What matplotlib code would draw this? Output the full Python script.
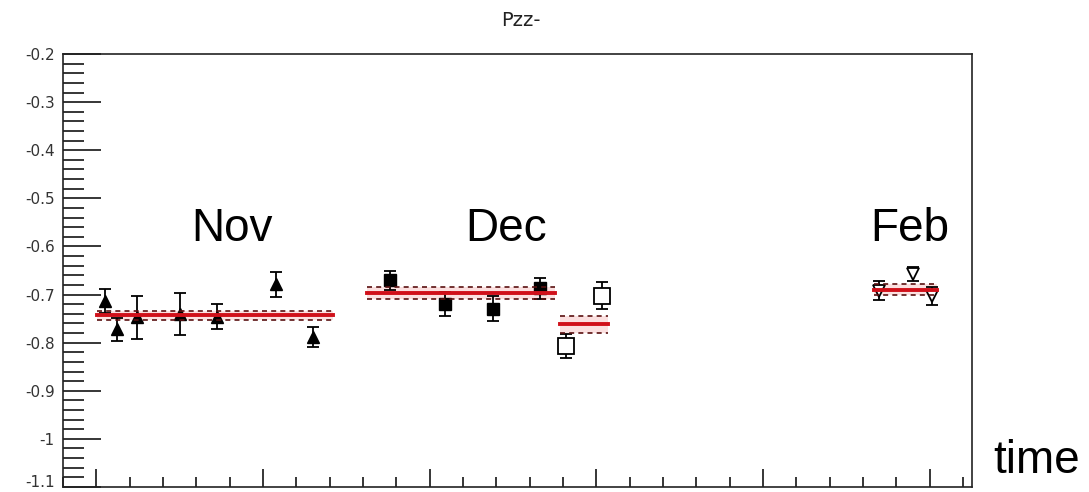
import numpy as np
import matplotlib
matplotlib.use("Agg")
import matplotlib.pyplot as plt
from matplotlib.ticker import MultipleLocator

# Nov: filled up triangles
nov_x = [1.26, 1.63, 2.21, 3.51, 4.61, 6.39, 7.49]
nov_y = [-0.714, -0.772, -0.747, -0.740, -0.746, -0.679, -0.788]
nov_err = [0.025, 0.024, 0.045, 0.044, 0.026, 0.026, 0.021]

# Dec: filled squares
dec_x = [9.81, 11.46, 12.91, 14.31]
dec_y = [-0.670, -0.720, -0.729, -0.687]
dec_err = [0.020, 0.025, 0.025, 0.022]

# Dec (second part): open squares
dec2_x = [15.08, 16.18]
dec2_y = [-0.807, -0.702]
dec2_err = [0.024, 0.028]

# Feb: open down triangles
feb_x = [24.49, 25.51, 26.06]
feb_y = [-0.692, -0.657, -0.703]
feb_err = [0.020, 0.014, 0.018]

# fits: (x start, x end, mean, error)
fit_ranges = [(1.01, 8.1), (9.11, 14.76), (14.91, 16.36), (24.33, 26.23)]
fit_mean = [-0.743, -0.697, -0.762, -0.690]
fit_err = [0.0095, 0.012, 0.017, 0.011]

month_labels = ["Nov", "Dec", "Feb"]
month_x = [5.07, 13.3, 25.4]
month_y = -0.563

ytick_vals = [-0.2, -0.3, -0.4, -0.5, -0.6, -0.7, -0.8, -0.9, -1.0, -1.1]
ytick_labels = ["-0.2", "-0.3", "-0.4", "-0.5", "-0.6", "-0.7", "-0.8", "-0.9", "-1", "-1.1"]

fig = plt.figure(figsize=(10.89, 4.92), dpi=100)
ax = fig.add_axes([0.0579, 0.0102, 0.8347, 0.880])

for (x0, x1), m, e in zip(fit_ranges, fit_mean, fit_err):
    ax.fill_between([x0, x1], m - e, m + e, color="#f9c8c8", alpha=0.55, lw=0, zorder=1)
    ax.plot([x0, x1], [m + e, m + e], ls=(0, (3, 2.5)), color="#5a1010", lw=1.2, zorder=4)
    ax.plot([x0, x1], [m - e, m - e], ls=(0, (3, 2.5)), color="#5a1010", lw=1.2, zorder=4)

ekw = dict(ls="none", ecolor="black", elinewidth=1.3, capsize=4, capthick=1.3, zorder=3)
ax.errorbar(nov_x, nov_y, yerr=nov_err, marker="^", ms=8, mfc="black", mec="black", **ekw)
ax.errorbar(dec_x, dec_y, yerr=dec_err, marker="s", ms=9, mfc="black", mec="black", **ekw)
ax.errorbar(dec2_x, dec2_y, yerr=dec2_err, marker="s", ms=11, mfc="white", mec="black", mew=1.3, **ekw)
ax.errorbar(feb_x, feb_y, yerr=feb_err, marker="v", ms=9, mfc="white", mec="black", mew=1.3, **ekw)

for (x0, x1), m in zip(fit_ranges, fit_mean):
    ax.plot([x0, x1], [m, m], color="#d0101a", lw=2.8, zorder=5)

for lab, x in zip(month_labels, month_x):
    ax.text(x, month_y, lab, fontsize=33, family="Liberation Sans", ha="center", va="center")

ax.set_xlim(0, 27.27)
ax.set_ylim(-1.1, -0.2)
ax.set_yticks(ytick_vals)
ax.set_yticklabels(ytick_labels)
ax.get_yticklabels()[-1].set_va("baseline")
ax.yaxis.set_minor_locator(MultipleLocator(0.02))
ax.set_xticks([1, 6, 11, 16, 21, 26])
ax.set_xticklabels([])
ax.xaxis.set_minor_locator(MultipleLocator(1))
ax.tick_params(axis="y", which="major", direction="in", length=27, width=1.1,
               labelsize=11, labelcolor="#333333", pad=6)
ax.tick_params(axis="y", which="minor", direction="in", length=15, width=1.1)
ax.tick_params(axis="x", which="major", direction="in", length=13, width=1.1)
ax.tick_params(axis="x", which="minor", direction="in", length=7, width=1.1)
for s in ax.spines.values():
    s.set_linewidth(1.2)
    s.set_color("#222222")

fig.text(0.478, 0.959, "Pzz-", fontsize=14, color="#222222", ha="center", va="center")
fig.text(0.952, 0.064, "time", fontsize=33, family="Liberation Sans", ha="center", va="center")

fig.savefig("out.png", dpi=100)
